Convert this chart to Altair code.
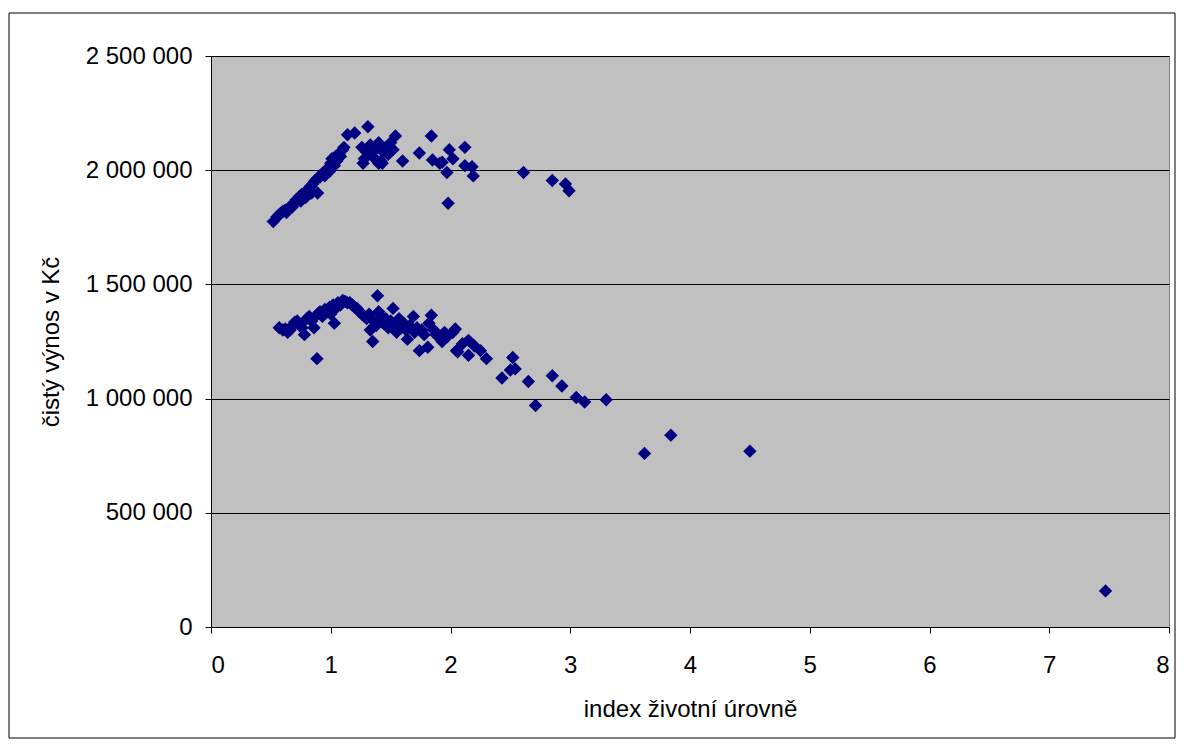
import altair as alt
import pandas as pd

# index životní úrovně (x) and čistý výnos v Kč in millions (y)
upper_x = [0.52, 0.55, 0.57, 0.58, 0.60, 0.62, 0.63, 0.65, 0.67, 0.68, 0.70, 0.71, 0.73, 0.74, 0.75,
           0.76, 0.78, 0.79, 0.80, 0.82, 0.83, 0.84, 0.85, 0.87, 0.89, 0.89, 0.91, 0.92, 0.94, 0.95,
           0.96, 0.98, 0.99, 1.00, 1.01, 1.03, 1.04, 1.05, 1.07, 1.08, 1.10, 1.11, 1.14, 1.20, 1.31,
           1.26, 1.27, 1.28, 1.30, 1.33, 1.35, 1.37, 1.40, 1.40, 1.42, 1.43, 1.44, 1.46, 1.48, 1.50,
           1.52, 1.54, 1.60, 1.74, 1.84, 1.85, 1.91, 1.93, 1.97, 1.98, 1.99, 2.02, 2.12, 2.12, 2.18,
           2.19, 2.61, 2.85, 2.96, 2.99]
upper_y = [1.775, 1.795, 1.805, 1.81, 1.82, 1.825, 1.815, 1.835, 1.845, 1.84, 1.86, 1.87, 1.875, 1.885, 1.865,
           1.895, 1.90, 1.88, 1.91, 1.915, 1.93, 1.90, 1.94, 1.955, 1.90, 1.965, 1.97, 1.98, 1.99, 1.975,
           2.00, 2.01, 1.995, 2.03, 2.05, 2.02, 2.06, 2.04, 2.07, 2.06, 2.09, 2.10, 2.155, 2.163, 2.19,
           2.10, 2.03, 2.05, 2.08, 2.11, 2.06, 2.09, 2.12, 2.03, 2.04, 2.03, 2.08, 2.10, 2.07, 2.12,
           2.09, 2.15, 2.04, 2.075, 2.15, 2.045, 2.03, 2.035, 1.99, 1.855, 2.09, 2.05, 2.10, 2.02, 2.015,
           1.975, 1.99, 1.955, 1.94, 1.91]

lower_x = [0.57, 0.60, 0.62, 0.64, 0.66, 0.68, 0.70, 0.72, 0.74, 0.76, 0.78, 0.80, 0.82, 0.84, 0.86,
           0.885, 0.89, 0.91, 0.93, 0.95, 0.97, 0.99, 1.00, 1.02, 1.03, 1.05, 1.06, 1.08, 1.10, 1.12,
           1.14, 1.16, 1.18, 1.20, 1.22, 1.24, 1.26, 1.28, 1.30, 1.32, 1.33, 1.35, 1.36, 1.38, 1.39,
           1.40, 1.42, 1.44, 1.46, 1.48, 1.50, 1.52, 1.53, 1.55, 1.57, 1.59, 1.61, 1.63, 1.64, 1.66,
           1.69, 1.70, 1.72, 1.74, 1.76, 1.78, 1.81, 1.82, 1.84, 1.86, 1.88, 1.90, 1.93, 1.95, 1.97,
           2.02, 2.04, 2.05, 2.06, 2.10, 2.15, 2.15, 2.20, 2.25, 2.30, 2.43, 2.50, 2.52, 2.54, 2.65,
           2.71, 2.85, 2.93, 3.05, 3.12, 3.30, 3.62, 3.84, 4.50, 7.47]
lower_y = [1.31, 1.30, 1.305, 1.29, 1.30, 1.32, 1.335, 1.34, 1.325, 1.31, 1.28, 1.35, 1.36, 1.34, 1.31,
           1.175, 1.37, 1.38, 1.36, 1.39, 1.38, 1.40, 1.37, 1.41, 1.33, 1.40, 1.42, 1.41, 1.43, 1.425,
           1.42, 1.42, 1.41, 1.40, 1.395, 1.38, 1.37, 1.36, 1.35, 1.37, 1.30, 1.25, 1.34, 1.32, 1.45,
           1.38, 1.36, 1.33, 1.35, 1.31, 1.34, 1.395, 1.32, 1.29, 1.35, 1.31, 1.33, 1.30, 1.26, 1.32,
           1.36, 1.29, 1.31, 1.21, 1.30, 1.28, 1.225, 1.33, 1.365, 1.30, 1.28, 1.27, 1.25, 1.29, 1.27,
           1.29, 1.305, 1.21, 1.205, 1.24, 1.255, 1.19, 1.23, 1.21, 1.175, 1.09, 1.125, 1.18, 1.13, 1.075,
           0.97, 1.10, 1.055, 1.005, 0.985, 0.995, 0.76, 0.84, 0.77, 0.158]

y_ticks = [0, 500000, 1000000, 1500000, 2000000, 2500000]
x_ticks = [0, 1, 2, 3, 4, 5, 6, 7, 8]

xs = upper_x + lower_x
ys = [v * 1e6 for v in upper_y + lower_y]
df = pd.DataFrame({"x": xs, "y": ys})

FONT = "Liberation Sans"

frame = alt.Chart(pd.DataFrame({"a": [0]})).mark_rect(
    fill="white", fillOpacity=0, stroke="black", strokeWidth=1
).encode(
    x=alt.value(-202), x2=alt.value(964), y=alt.value(-43), y2=alt.value(682)
)

points = alt.Chart(df).mark_point(
    shape="diamond", filled=True, color="#000080", size=180, opacity=1
).encode(
    x=alt.X("x:Q", scale=alt.Scale(domain=[0, 8], nice=False, zero=True),
            axis=alt.Axis(values=x_ticks, title="index životní úrovně", grid=False,
                          tickSize=6, labelPadding=20, titlePadding=20, format="d")),
    y=alt.Y("y:Q", scale=alt.Scale(domain=[0, 2500000], nice=False),
            axis=alt.Axis(values=y_ticks, title="čistý výnos v Kč", grid=True,
                          tickSize=6, labelPadding=13, titlePadding=22,
                          labelExpr="replace(format(datum.value, ',d'), /,/g, ' ')")),
)

chart = alt.layer(frame, points).properties(
    width=958, height=571,
    autosize=alt.AutoSizeParams(type="none"),
    padding={"left": 203, "top": 48, "right": 7, "bottom": 112},
    background="white",
).configure_view(
    fill="#C0C0C0", stroke="#808080", strokeWidth=1
).configure_axis(
    domainColor="black", tickColor="black", gridColor="black", gridOpacity=1, gridWidth=1,
    labelFont=FONT, titleFont=FONT, labelFontSize=24, titleFontSize=24,
    labelColor="black", titleColor="black", titleFontWeight="normal", domainWidth=1, tickWidth=1,
)

chart.save("out.html", embed_options={"renderer": "svg", "actions": False})
